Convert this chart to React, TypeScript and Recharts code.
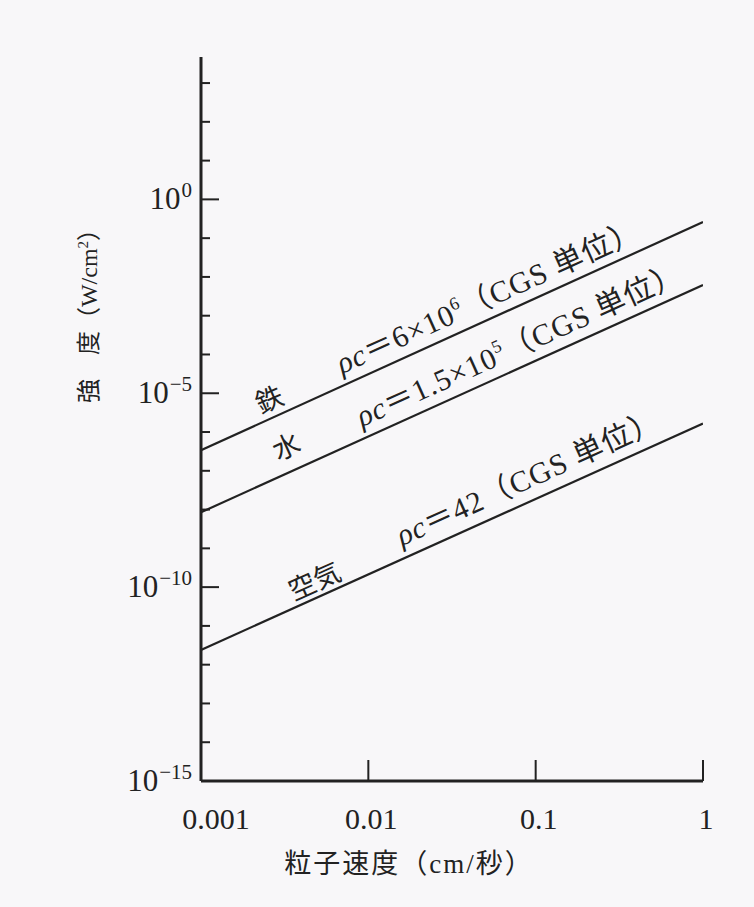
import { LineChart, Line, XAxis, YAxis, Customized } from "recharts";

// particle velocity (cm/s) at both ends of each line
const velocity = [0.001, 1];
// intensity (W/cm^2)
const ironIntensity = [3.4e-7, 2.6e-1];
const waterIntensity = [8.5e-9, 6.2e-3];
const airIntensity = [2.4e-12, 1.66e-6];

const xTicks = [0.001, 0.01, 0.1, 1];
const xTickLabels = ["0.001", "0.01", "0.1", "1"];

const yTicks = [
  1e-15, 1e-14, 1e-13, 1e-12, 1e-11, 1e-10, 1e-9, 1e-8, 1e-7, 1e-6,
  1e-5, 1e-4, 1e-3, 1e-2, 1e-1, 1, 1e1, 1e2, 1e3,
];
const yMajorTicks = [1, 1e-5, 1e-10, 1e-15];
const yMajorLabels = ["0", "−5", "−10", "−15"];

const toRows = (vals: number[]) => velocity.map((v, i) => ({ v, I: vals[i] }));
const ironData = toRows(ironIntensity);
const waterData = toRows(waterIntensity);
const airData = toRows(airIntensity);

const INK = "#222";
const SERIF = '"Liberation Serif", "Noto Sans CJK JP", serif';
const ANGLE = -24.3;

const YLabel = ({ x, y, exp }: any) => (
  <text x={x - 9} y={y + 10} textAnchor="end" fontFamily={SERIF} fontSize={31} fill={INK}>
    10<tspan dx={1} dy={-12} fontSize={21}>{exp}</tspan>
  </text>
);

const YTick = ({ x, y, payload }: any) => {
  const idx = yMajorTicks.indexOf(payload.value);
  const major = idx >= 0;
  if (payload.value === 1e-15) return <YLabel x={x} y={y} exp={yMajorLabels[idx]} />;
  return (
    <g>
      <line x1={x} x2={x + (major ? 18 : 9)} y1={y} y2={y} stroke={INK} strokeWidth={2} />
      {major && <YLabel x={x} y={y} exp={yMajorLabels[idx]} />}
    </g>
  );
};

const XTick = ({ x, y, payload, index }: any) => (
  <g>
    {index > 0 && <line x1={x} x2={x} y1={y} y2={y - 21} stroke={INK} strokeWidth={2} />}
    <text
      x={x + (index === 0 ? 15 : 3)}
      y={y + 48}
      textAnchor="middle"
      fontFamily={SERIF}
      fontSize={30}
      fill={INK}
    >
      {xTickLabels[xTicks.indexOf(payload.value)]}
    </text>
  </g>
);

const Note = ({ x, y, size = 30, children }: any) => (
  <text
    transform={`translate(${x},${y}) rotate(${ANGLE})`}
    fontFamily={SERIF}
    fontSize={size}
    letterSpacing={size > 28 ? 1 : 0}
    fill={INK}
  >
    {children}
  </text>
);

const Annotations = () => (
  <g>
    <Note x={261} y={414} size={27}>鉄</Note>
    <Note x={278} y={461} size={27}>水</Note>
    <Note x={294} y={601} size={27}>空気</Note>
    <Note x={342} y={374}>
      <tspan fontStyle="italic">ρc</tspan>＝6×10<tspan dy={-12} fontSize={18}>6</tspan>
      <tspan dy={12}>（CGS 単位）</tspan>
    </Note>
    <Note x={362} y={427}>
      <tspan fontStyle="italic">ρc</tspan>＝1.5×10<tspan dy={-12} fontSize={18}>5</tspan>
      <tspan dy={12}>（CGS 単位）</tspan>
    </Note>
    <Note x={402} y={546}>
      <tspan fontStyle="italic">ρc</tspan>＝42（CGS 単位）
    </Note>
    <text
      transform="translate(97,310) rotate(-90)"
      textAnchor="middle"
      fontFamily={SERIF}
      fontSize={24}
      fill={INK}
    >
      強　度（W/cm<tspan dy={-9} fontSize={15}>2</tspan><tspan dy={9}>）</tspan>
    </text>
    <text
      x={409}
      y={873}
      textAnchor="middle"
      fontFamily={SERIF}
      fontSize={27}
      letterSpacing={2}
      fill={INK}
    >
      粒子速度（cm/秒）
    </text>
  </g>
);

export default function App() {
  return (
    <div
      style={{
        position: "absolute",
        left: 0,
        top: 0,
        width: 754,
        height: 907,
        background: "#f8f7f9",
      }}
    >
      <LineChart width={754} height={907} margin={{ top: 57, right: 51, left: 81, bottom: 26 }}>
        <XAxis
          type="number"
          dataKey="v"
          scale="log"
          domain={[0.001, 1]}
          ticks={xTicks}
          allowDataOverflow
          height={100}
          tickSize={0}
          tickMargin={0}
          tickLine={false}
          axisLine={{ stroke: INK, strokeWidth: 3 }}
          tick={<XTick />}
          interval={0}
        />
        <YAxis
          type="number"
          dataKey="I"
          scale="log"
          domain={[1e-15, 4.7e3]}
          ticks={yTicks}
          allowDataOverflow
          width={120}
          tickSize={0}
          tickMargin={0}
          tickLine={false}
          axisLine={{ stroke: INK, strokeWidth: 3 }}
          tick={<YTick />}
          interval={0}
        />
        <Line data={ironData} dataKey="I" stroke={INK} strokeWidth={2.2} dot={false} isAnimationActive={false} />
        <Line data={waterData} dataKey="I" stroke={INK} strokeWidth={2.2} dot={false} isAnimationActive={false} />
        <Line data={airData} dataKey="I" stroke={INK} strokeWidth={2.2} dot={false} isAnimationActive={false} />
        <Customized component={Annotations} />
      </LineChart>
    </div>
  );
}
